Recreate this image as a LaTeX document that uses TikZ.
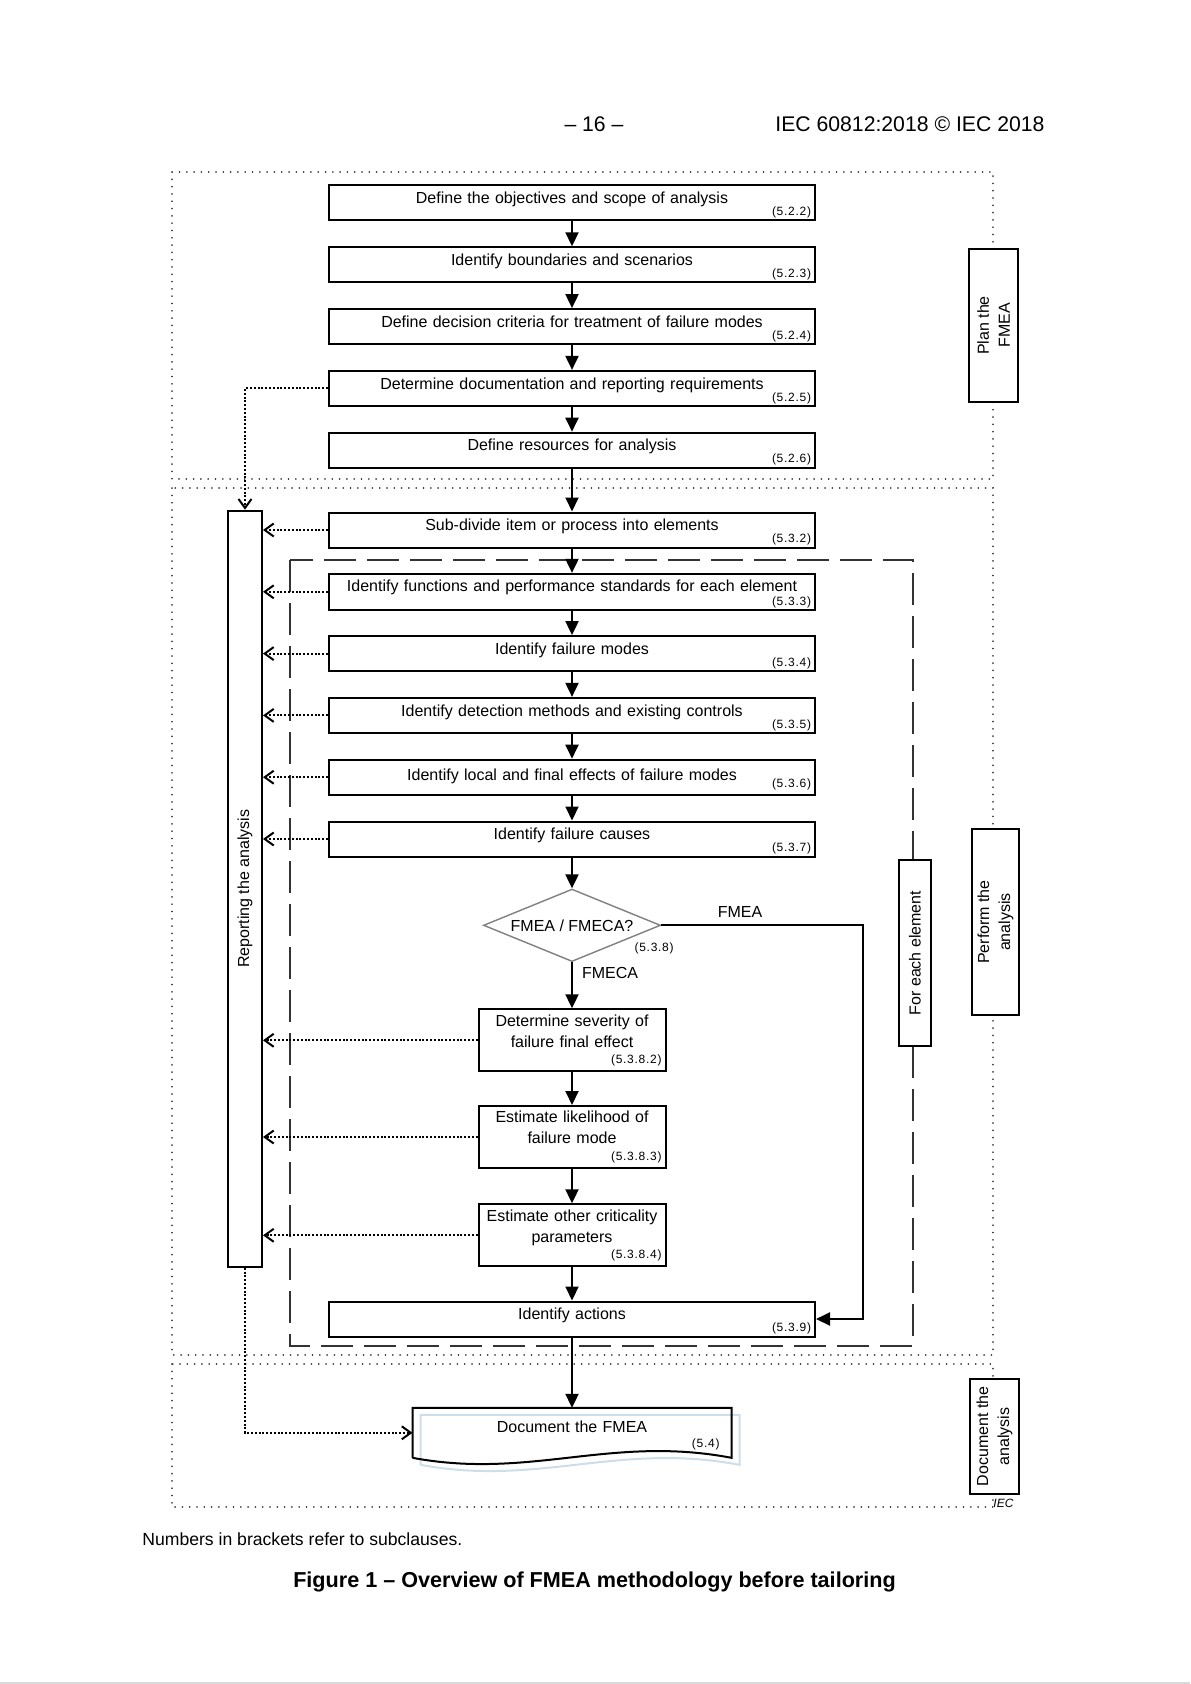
\documentclass[tikz,border=0pt]{standalone}
\usepackage{fontspec}
\setmainfont{Liberation Sans}
\newfontfamily\clausefamily[LetterSpace=6]{Liberation Sans}
\usepackage{tikz}
\usetikzlibrary{shapes,arrows.meta}
\newcommand{\boxfont}{\fontsize{8}{10.5}\selectfont}
\newcommand{\clausefont}{\clausefamily\fontsize{6}{7}\selectfont}
\newcommand{\clause}[2][-4.5pt]{\rule{0pt}{8pt}\\[#1]\mbox{}\hskip 0pt plus 1filll{\clausefont #2}}
\tikzstyle{stepbox} = [rectangle, draw=black, line width=1pt, minimum width=243pt, minimum height=17.5pt, text width=239pt, inner xsep=2pt, inner ysep=1pt, align=center, font=\boxfont]
\tikzstyle{critbox} = [stepbox, minimum width=93.5pt, text width=89.5pt, minimum height=31pt]
\tikzstyle{docnode} = [rectangle, minimum width=159.5pt, minimum height=25pt, text width=147.5pt, inner xsep=6pt, inner ysep=1pt, outer sep=0pt, align=center, font=\boxfont]
\tikzstyle{decision} = [diamond, aspect=2.44, draw=black!50, line width=0.7pt, minimum width=88.5pt, minimum height=36.25pt, inner sep=0pt, font=\boxfont]
\tikzstyle{sidebar} = [rectangle, draw=black, fill=white, line width=1pt, rotate=90, align=center, inner sep=0pt, font=\boxfont]
\tikzstyle{lbl} = [inner sep=1pt, font=\boxfont]
\tikzstyle{pagetext} = [inner sep=0pt, font=\fontsize{10.6}{13}\selectfont]
\tikzstyle{flow} = [line width=1pt, -{Triangle[length=7pt,width=6.5pt]}]
\tikzstyle{feedback} = [line width=1pt, dash pattern=on 1pt off 0.9pt, -{Straight Barb[length=4.5pt,width=6.5pt]}]
\tikzstyle{phase} = [draw=black!75, line width=0.8pt, dash pattern=on 0.1pt off 3.55pt, line cap=round]
\tikzstyle{loopframe} = [draw=black!80, line width=1pt, dash pattern=on 16pt off 5.5pt]
\tikzstyle{docline} = [draw=black, line width=1pt]
\tikzstyle{docshade} = [draw={rgb,255:red,205;green,222;blue,235}, line width=1pt]

\begin{document}
\begin{tikzpicture}[x=0.5pt, y=0.5pt, node distance=30.9pt]
\useasboundingbox (0,0) rectangle (1190,-1684);
\fill[white] (0,0) rectangle (1190,-1684);
\fill[black!15] (0,-1681.5) rectangle (1190,-1684);

\node[pagetext, anchor=base] (pageno) at (594,-131.5) {– 16 –};
\node[pagetext, anchor=base west] (stdref) at (775,-131.5) {IEC 60812:2018 © IEC 2018};

\draw[phase] (172,-172) rectangle (993,-479);
\draw[phase] (172,-488) rectangle (993,-1355);
\draw[phase] (172,-1364) rectangle (993,-1507);
\draw[loopframe] (290,-560) rectangle (913,-1346);

\node[stepbox] (objectives) at (572,-203) {Define the objectives and scope of analysis\clause{(5.2.2)}};
\node[stepbox, below of=objectives] (boundaries) {Identify boundaries and scenarios\clause{(5.2.3)}};
\node[stepbox, below of=boundaries] (criteria) {Define decision criteria for treatment of failure modes\clause{(5.2.4)}};
\node[stepbox, below of=criteria] (docreq) {Determine documentation and reporting requirements\clause{(5.2.5)}};
\node[stepbox, below of=docreq] (resources) {Define resources for analysis\clause{(5.2.6)}};
\node[stepbox, below of=resources, yshift=-9pt] (subdivide) {Sub-divide item or process into elements\clause{(5.3.2)}};
\node[stepbox, below of=subdivide] (functions) {Identify functions and performance standards for each element\clause[-3.8pt]{(5.3.3)}};
\node[stepbox, below of=functions] (modes) {Identify failure modes\clause{(5.3.4)}};
\node[stepbox, below of=modes] (detection) {Identify detection methods and existing controls\clause{(5.3.5)}};
\node[stepbox, below of=detection] (effects) {Identify local and final effects of failure modes\clause[-7pt]{(5.3.6)}};
\node[stepbox, below of=effects] (causes) {Identify failure causes\clause{(5.3.7)}};
\node[decision, node distance=43.15pt, below of=causes] (decide) {FMEA / FMECA?};
\node[critbox, node distance=57.5pt, below of=decide] (severity) {Determine severity of\\failure final effect\clause[-2.15pt]{(5.3.8.2)}};
\node[critbox, node distance=48.35pt, below of=severity] (likelihood) {Estimate likelihood of\\failure mode\clause[-2.15pt]{(5.3.8.3)}};
\node[critbox, node distance=49.15pt, below of=likelihood] (otherpar) {Estimate other criticality\\parameters\clause[-2.15pt]{(5.3.8.4)}};
\node[stepbox, node distance=41.85pt, below of=otherpar] (actions) {Identify actions\clause{(5.3.9)}};
\node[docnode, node distance=56.9pt, below of=actions] (document) {Document the FMEA\clause[-3pt]{(5.4)}};
\node[inner sep=0pt, anchor=base east, font=\clausefont] (decideref) at (674,-951.7) {(5.3.8)};

\draw[docshade, transform canvas={shift={(4pt,-3.5pt)}}] (document.south west) -- (document.north west) -- (document.north east) -- (document.south east) .. controls +(-121,23) and +(118,-22) .. (document.south west);
\draw[docline] (document.south west) -- (document.north west) -- (document.north east) -- (document.south east) .. controls +(-121,23) and +(118,-22) .. (document.south west);

\node[sidebar, minimum width=378pt, minimum height=17pt] (report) at (245,-888.7) {Reporting the analysis};
\node[sidebar, minimum width=93pt, minimum height=16pt] (eachelem) at (915,-953) {For each element};
\node[sidebar, minimum width=76.5pt, minimum height=24.5pt] (planlbl) at (993.5,-325.5) {Plan the\\FMEA};
\node[sidebar, minimum width=93pt, minimum height=23.5pt] (performlbl) at (995.5,-922) {Perform the\\analysis};
\node[sidebar, minimum width=57.5pt, minimum height=24.5pt] (documentlbl) at (994.5,-1436.5) {Document the\\analysis};
\node[inner sep=0pt, anchor=base west, font=\fontsize{6}{7}\selectfont\itshape] (ieclogo) at (993,-1507) {IEC};

\draw[flow] (objectives)--(boundaries);
\draw[flow] (boundaries)--(criteria);
\draw[flow] (criteria)--(docreq);
\draw[flow] (docreq)--(resources);
\draw[flow] (resources)--(subdivide);
\draw[flow] (subdivide)--(functions);
\draw[flow] (functions)--(modes);
\draw[flow] (modes)--(detection);
\draw[flow] (detection)--(effects);
\draw[flow] (effects)--(causes);
\draw[flow] (causes)--(decide);
\draw[flow] (decide.south) -- node[lbl, right=3.5pt, pos=0.24] (fmecalbl) {FMECA} (severity.north);
\draw[flow] (severity)--(likelihood);
\draw[flow] (likelihood)--(otherpar);
\draw[flow] (otherpar)--(actions);
\draw[flow] (decide.east) -- node[lbl, above=2.3pt, pos=0.39] (fmealbl) {FMEA} ++(202,0) |- (actions.east);
\draw[flow] (actions)--(document);

\draw[feedback] (docreq.west) -| (report.east);
\draw[feedback] (subdivide.west) -- (subdivide.west -| report.south);
\draw[feedback] (functions.west) -- (functions.west -| report.south);
\draw[feedback] (modes.west) -- (modes.west -| report.south);
\draw[feedback] (detection.west) -- (detection.west -| report.south);
\draw[feedback] (effects.west) -- (effects.west -| report.south);
\draw[feedback] (causes.west) -- (causes.west -| report.south);
\draw[feedback] (severity.west) -- (severity.west -| report.south);
\draw[feedback] (likelihood.west) -- (likelihood.west -| report.south);
\draw[feedback] (otherpar.west) -- (otherpar.west -| report.south);
\draw[feedback] (report.west) |- (document.west);

\node[inner sep=0pt, anchor=base west, font=\fontsize{8.8}{10}\selectfont] (note) at (142,-1545) {Numbers in brackets refer to subclauses.};
\node[inner sep=0pt, anchor=base, font=\fontsize{10.8}{13}\selectfont\bfseries] (caption) at (594.5,-1587.5) {Figure 1 – Overview of FMEA methodology before tailoring};
\end{tikzpicture}
\end{document}
